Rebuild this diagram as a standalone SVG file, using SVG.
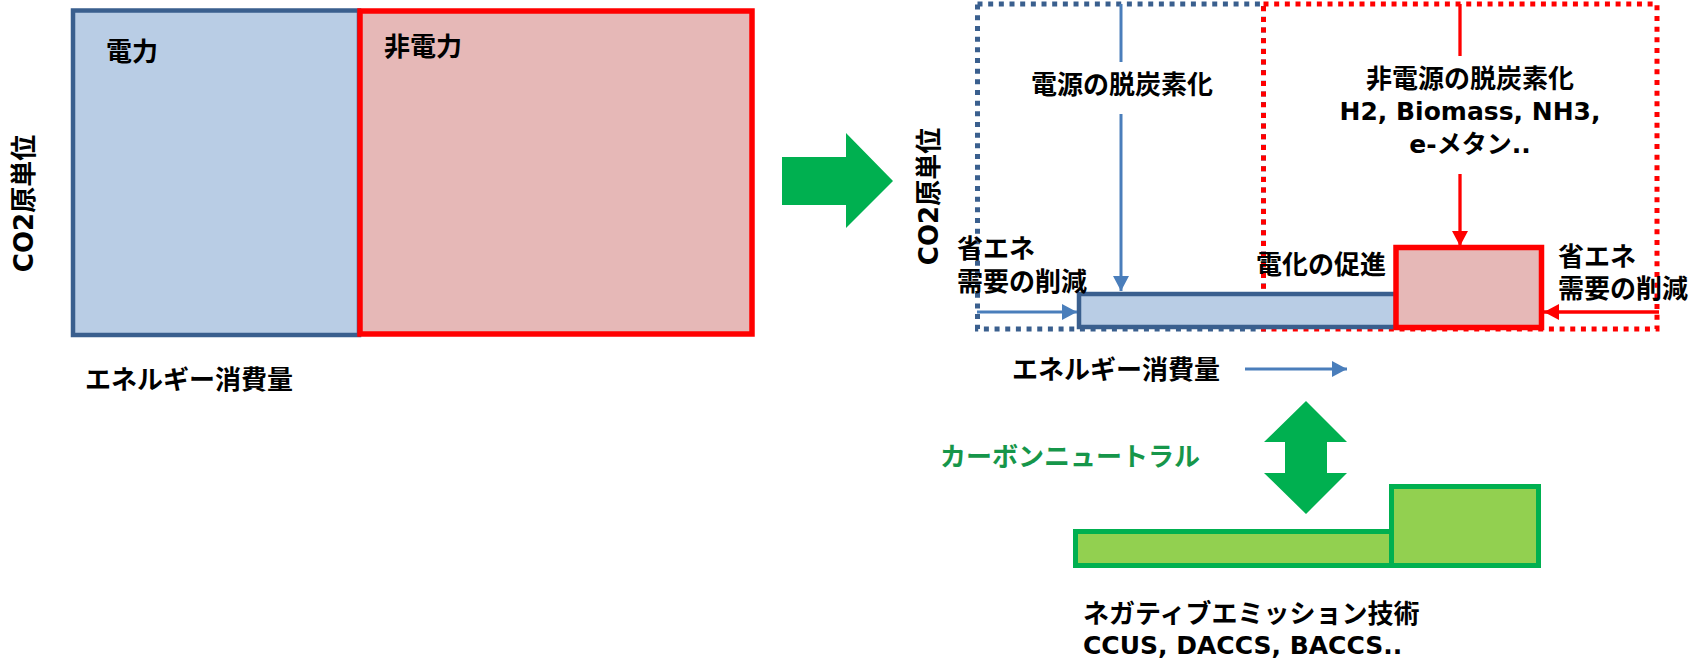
<svg xmlns="http://www.w3.org/2000/svg" width="1707" height="661" viewBox="0 0 1707 661">
<style>
.t{font-family:"Noto Sans CJK JP",sans-serif;font-weight:bold;font-size:26px;fill:#000}
.m{font-family:"DejaVu Sans","Noto Sans CJK JP",sans-serif;font-weight:bold;font-size:25px;fill:#000}
.c{text-anchor:middle}
.blue{fill:#B9CDE5;stroke:#3A5F8E;stroke-width:4.5}
.red{fill:#E6B8B7;stroke:#FF0000;stroke-width:5.5}
.green{fill:#92D050;stroke:#00B050;stroke-width:5}
.dotb{fill:none;stroke:#3A5F8E;stroke-width:5;stroke-dasharray:5 5.67}
.dotr{fill:none;stroke:#FF0000;stroke-width:5;stroke-dasharray:5 5.67}
.ab{stroke:#4A7EBB;stroke-width:3;fill:none}
.ar{stroke:#FF0000;stroke-width:3.3;fill:none}
.ga{fill:#00B050}
</style>
<defs>
<marker id="hb" markerUnits="userSpaceOnUse" markerWidth="15" markerHeight="16" refX="15" refY="8" orient="auto" viewBox="0 0 15 16"><path d="M0,0 L15,8 L0,16 z" fill="#4A7EBB"/></marker>
<marker id="hr" markerUnits="userSpaceOnUse" markerWidth="15" markerHeight="16" refX="15" refY="8" orient="auto" viewBox="0 0 15 16"><path d="M0,0 L15,8 L0,16 z" fill="#FF0000"/></marker>
</defs>

<g id="left-chart">
<rect id="left-power" class="blue" x="73" y="10.5" width="286" height="324.5"/>
<rect id="left-nonpower" class="red" x="360" y="11" width="392" height="323"/>
<text class="t" x="106" y="61">電力</text>
<text class="t" x="384" y="56">非電力</text>
<text class="t" x="85" y="389">エネルギー消費量</text>
<text class="m" transform="translate(33,203.5) rotate(-90)" text-anchor="middle" style="font-size:26px">CO2原単位</text>
</g>

<g id="transition-arrow">
<polygon class="ga" points="782,157 846,157 846,133 893,181 846,228 846,205 782,205"/>
</g>

<g id="power-zone">
<rect class="dotb" x="977.5" y="4" width="286" height="325"/>
</g>
<g id="nonpower-zone">
<rect class="dotr" x="1263.5" y="4" width="393.5" height="325"/>
</g>

<g id="right-power">
<rect class="blue" x="1079" y="294" width="317" height="33"/>
</g>
<g id="right-nonpower">
<rect class="red" x="1396" y="247.5" width="145.5" height="80"/>
</g>

<g id="connectors">
<line class="ab" x1="1121" y1="4" x2="1121" y2="62"/>
<line class="ab" x1="1121" y1="114" x2="1121" y2="291" marker-end="url(#hb)"/>
<line class="ab" x1="977" y1="312" x2="1077" y2="312" marker-end="url(#hb)"/>
<line class="ab" x1="1245" y1="369" x2="1347" y2="369" marker-end="url(#hb)"/>
<line class="ar" x1="1460" y1="4" x2="1460" y2="56"/>
<line class="ar" x1="1460" y1="174" x2="1460" y2="246" marker-end="url(#hr)"/>
<line class="ar" x1="1659" y1="312" x2="1544" y2="312" marker-end="url(#hr)"/>
<polygon class="ga" points="1306,401 1347,442 1327,442 1327,473 1347,473 1306,514 1264,473 1285,473 1285,442 1264,442"/>
</g>

<g id="labels-right">
<text class="m" transform="translate(938,196.5) rotate(-90)" text-anchor="middle" style="font-size:26px">CO2原単位</text>
<text class="t c" x="1122" y="94">電源の脱炭素化</text>
<text class="m c" x="1470" y="88"><tspan style="font-family:'Noto Sans CJK JP',sans-serif;font-size:26px">非電源の脱炭素化</tspan><tspan x="1470" y="120">H2, Biomass, NH3,</tspan><tspan x="1470" y="153">e-メタン..</tspan></text>
<text class="t" x="1256" y="274">電化の促進</text>
<text class="t" x="957" y="258">省エネ<tspan x="957" y="291">需要の削減</tspan></text>
<text class="t" x="1558" y="266">省エネ<tspan x="1558" y="298">需要の削減</tspan></text>
<text class="t" x="1012" y="379">エネルギー消費量</text>
<text class="t" x="940" y="466" style="fill:#16964A">カーボンニュートラル</text>
</g>

<g id="negative-emission">
<rect class="green" x="1075.5" y="531.5" width="316" height="34"/>
<rect class="green" x="1391.5" y="486.5" width="147" height="79"/>
<text class="t" x="1083" y="623">ネガティブエミッション技術<tspan class="m" x="1083" y="654">CCUS, DACCS, BACCS..</tspan></text>
</g>
</svg>
